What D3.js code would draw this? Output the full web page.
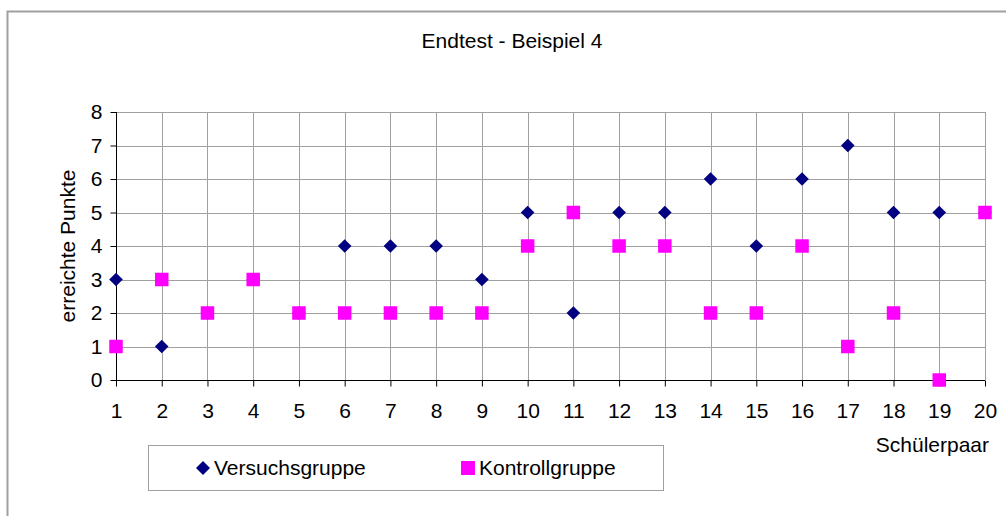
<!DOCTYPE html>
<html>
<head>
<meta charset="utf-8">
<script src="https://cdn.jsdelivr.net/npm/d3@7"></script>
<style>
  html, body { margin: 0; padding: 0; background: #fff; }
  svg { display: block; font-family: "Liberation Sans", Arial, sans-serif; }
</style>
</head>
<body>
<svg id="chart" width="1006" height="516"></svg>
<script>
const title = "Endtest - Beispiel 4";
const categories = [1,2,3,4,5,6,7,8,9,10,11,12,13,14,15,16,17,18,19,20];
const versuchsgruppe = [3,1,2,3,2,4,4,4,3,5,2,5,5,6,4,6,7,5,5,5];
const kontrollgruppe = [1,3,2,3,2,2,2,2,2,4,5,4,4,2,2,4,1,2,0,5];
const yTicks = [0,1,2,3,4,5,6,7,8];
const seriesNames = ["Versuchsgruppe", "Kontrollgruppe"];
const colors = ["#000080", "#FF00FF"];
const yLabel = "erreichte Punkte";
const xLabel = "Schülerpaar";

const svg = d3.select("#chart");
const FS = 21;

// outer frame
svg.append("rect").attr("x", 7.5).attr("y", 11.5).attr("width", 1020).attr("height", 530)
  .attr("fill", "#fff").attr("stroke", "#a0a0a0").attr("stroke-width", 2);

const x = d3.scalePoint().domain(categories).range([116, 985]);
const y = d3.scaleLinear().domain([0, 8]).range([380, 112]);

// grid
const g = svg.append("g");
g.selectAll("line.vg").data(categories.slice(1)).join("line")
  .attr("x1", d => Math.round(x(d)) + 0.5).attr("x2", d => Math.round(x(d)) + 0.5)
  .attr("y1", y(8)).attr("y2", y(0))
  .attr("stroke", "#a0a0a0").attr("stroke-width", 1);
g.selectAll("line.hg").data(yTicks.slice(1)).join("line")
  .attr("x1", x(1)).attr("x2", x(20))
  .attr("y1", d => Math.round(y(d)) + 0.5).attr("y2", d => Math.round(y(d)) + 0.5)
  .attr("stroke", "#a0a0a0").attr("stroke-width", 1);

// axes
const yAxis = d3.axisLeft(y).tickValues(yTicks).tickSize(6).tickPadding(8).tickFormat(d3.format("d"));
const ya = svg.append("g").attr("transform", "translate(116.5,0)").call(yAxis);
const xAxis = d3.axisBottom(x).tickSize(6).tickPadding(17);
const xa = svg.append("g").attr("transform", "translate(0,380.5)").call(xAxis);
[ya, xa].forEach(a => {
  a.select(".domain").attr("stroke", "#000").attr("stroke-width", 1);
  a.selectAll(".tick line").attr("stroke", "#000");
  a.selectAll("text").attr("font-size", FS).attr("fill", "#000")
    .attr("font-family", "Liberation Sans, Arial, sans-serif");
});
ya.select(".domain").attr("d", `M0,${y(8)}V${y(0)}`);
xa.select(".domain").attr("d", `M${x(1)},0H${x(20)}`);

// markers
const diamond = (cx, cy, r) => `M${cx},${cy - r}L${cx + r},${cy}L${cx},${cy + r}L${cx - r},${cy}Z`;
svg.append("g").selectAll("path").data(categories.map((c, i) => [c, versuchsgruppe[i]])).join("path")
  .attr("d", d => diamond(x(d[0]), y(d[1]), 6.8)).attr("fill", colors[0]);
const S = 13.5;
svg.append("g").selectAll("rect").data(categories.map((c, i) => [c, kontrollgruppe[i]])).join("rect")
  .attr("x", d => x(d[0]) - S / 2).attr("y", d => y(d[1]) - S / 2)
  .attr("width", S).attr("height", S).attr("fill", colors[1]);

// title
svg.append("text").attr("x", 512).attr("y", 48).attr("text-anchor", "middle")
  .attr("font-size", FS).text(title);

// axis titles
svg.append("text").attr("transform", "translate(75,246) rotate(-90)").attr("text-anchor", "middle")
  .attr("font-size", FS).text(yLabel);
svg.append("text").attr("x", 989).attr("y", 452).attr("text-anchor", "end")
  .attr("font-size", FS).text(xLabel);

// legend
svg.append("rect").attr("x", 148.5).attr("y", 445.5).attr("width", 515).attr("height", 45)
  .attr("fill", "#fff").attr("stroke", "#a0a0a0").attr("stroke-width", 1);
svg.append("path").attr("d", diamond(203, 468, 7)).attr("fill", colors[0]);
svg.append("text").attr("x", 214).attr("y", 475).attr("font-size", FS).text(seriesNames[0]);
svg.append("rect").attr("x", 461).attr("y", 461).attr("width", 14).attr("height", 14).attr("fill", colors[1]);
svg.append("text").attr("x", 479).attr("y", 475).attr("font-size", FS).text(seriesNames[1]);
</script>
</body>
</html>
